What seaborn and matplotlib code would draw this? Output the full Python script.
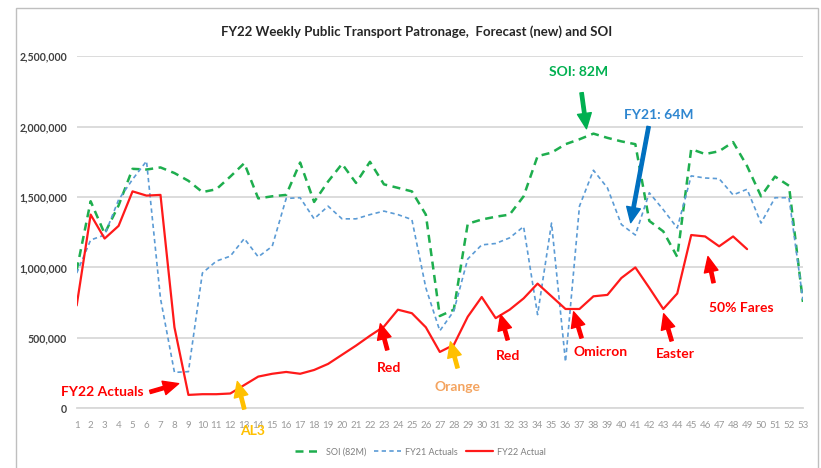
import numpy as np
import pandas as pd
import matplotlib
matplotlib.use("Agg")
import matplotlib.pyplot as plt
from matplotlib.patches import Rectangle
from matplotlib.lines import Line2D
import matplotlib.ticker as mticker
import seaborn as sns

# weekly patronage, thousands of trips
weeks = list(range(1, 54))
soi = [980, 1470, 1240, 1440, 1700, 1695, 1710, 1670, 1615, 1535,
       1555, 1645, 1740, 1490, 1505, 1515, 1745, 1465, 1610, 1735,
       1600, 1750, 1590, 1565, 1540, 1375, 655, 700, 1310, 1340,
       1360, 1375, 1505, 1790, 1815, 1875, 1910, 1950, 1920, 1895,
       1875, 1330, 1256, 1075, 1840, 1805, 1825, 1890, 1720, 1505,
       1645, 1580, 755]
fy21 = [960, 1195, 1230, 1480, 1625, 1755, 780, 255, 260, 960,
        1045, 1080, 1205, 1075, 1150, 1490, 1495, 1345, 1435, 1345,
        1345, 1375, 1400, 1375, 1340, 855, 550, 690, 1060, 1160,
        1170, 1210, 1290, 665, 1315, 330, 1435, 1690, 1565, 1305,
        1230, 1530, 1410, 1280, 1650, 1635, 1630, 1515, 1555, 1315,
        1495, 1495, 770]
fy22 = [730, 1375, 1205, 1295, 1540, 1510, 1515, 575, 95, 100,
        100, 105, 165, 225, 245, 258, 245, 272, 315, 380,
        445, 515, 580, 700, 675, 575, 400, 450, 650, 790,
        640, 700, 780, 885, 795, 705, 705, 795, 805, 925,
        1000, 855, 705, 815, 1230, 1220, 1150, 1220, 1130]

series_names = ["SOI (82M)", "FY21 Actuals", "FY22 Actual"]
y_ticks = [0, 500000, 1000000, 1500000, 2000000, 2500000]
title = "FY22 Weekly Public Transport Patronage,  Forecast (new) and SOI"

# text, colour, text pos (week, value), arrow tail, arrow tip
notes = [
    ("SOI: 82M", "#00B050", (36.9, 2390000), (37.15, 2240000), (37.5, 1985000)),
    ("FY21: 64M", "#2E86D0", (42.7, 2080000), (41.95, 2000000), (40.67, 1318000)),
    ("FY22 Actuals", "#FF0000", (2.8, 116000), (6.25, 116000), (8.3, 175000)),
    ("AL3", "#FFC000", (13.6, -160000), (13.0, -5000), (12.5, 190000)),
    ("Red", "#FF0000", (23.4, 287000), (23.24, 415000), (22.74, 600000)),
    ("Orange", "#F4A460", (28.3, 151000), (28.27, 287000), (27.76, 472000)),
    ("Red", "#FF0000", (31.9, 372000), (31.86, 486000), (31.35, 664000)),
    ("Omicron", "#FF0000", (38.5, 400000), (37.15, 500000), (36.58, 685000)),
    ("Easter", "#FF0000", (43.9, 386000), (43.6, 479000), (43.03, 671000)),
    ("50% Fares", "#FF0000", (48.6, 714000), (46.6, 892000), (46.2, 1077000)),
]
arrow_cols = {"#F4A460": "#FFC000", "#2E86D0": "#0070C0"}

df = pd.concat([
    pd.DataFrame({"week": weeks, "patronage": np.array(soi) * 1000, "series": series_names[0]}),
    pd.DataFrame({"week": weeks, "patronage": np.array(fy21) * 1000, "series": series_names[1]}),
    pd.DataFrame({"week": weeks[:len(fy22)], "patronage": np.array(fy22) * 1000, "series": series_names[2]}),
])

sns.set_style("white")
plt.rcParams['font.family'] = ['Lato', 'DejaVu Sans']

fig = plt.figure(figsize=(8.21, 4.68), dpi=100)
ax = fig.add_axes([0.0934, 0.1276, 0.8846, 0.7524])

styles = {
    "SOI (82M)": dict(color="#1EAE4E", lw=1.8, dashes=(3.2, 2.2)),
    "FY21 Actuals": dict(color="#5B9BD5", lw=1.2, dashes=(2.6, 2.0)),
    "FY22 Actual": dict(color="#FF1A1A", lw=1.6, dashes=""),
}
for name in series_names:
    st = styles[name]
    sub = df[df["series"] == name]
    sns.lineplot(data=sub, x="week", y="patronage", ax=ax, color=st["color"],
                 linewidth=st["lw"], legend=False)
    if st["dashes"]:
        ax.lines[-1].set_dashes(st["dashes"])

ax.set_xlim(1, 53)
ax.set_ylim(0, 2500000)
ax.set_yticks(y_ticks)
ax.yaxis.set_major_formatter(mticker.FuncFormatter(lambda v, p: f"{v:,.0f}"))
ax.set_xticks(weeks)
ax.set_xlabel("")
ax.set_ylabel("")
ax.grid(axis="y", color="#D9D9D9", lw=1.3)
ax.set_axisbelow(True)
for s in ["left", "right", "top"]:
    ax.spines[s].set_visible(False)
ax.spines["bottom"].set_color("#D9D9D9")
ax.spines["bottom"].set_linewidth(1.3)
ax.tick_params(axis="x", colors="#D9D9D9", length=4, width=1, direction="out", labelsize=7, labelcolor="#9A9A9A", pad=5)
ax.tick_params(axis="y", length=0, labelsize=7.6, labelcolor="#404040", pad=7)
for t in ax.get_yticklabels():
    t.set_fontweight("bold")

fig.text(0.508, 0.932, title, ha="center", va="center", fontsize=9.5, fontweight="bold", color="#262626")

for txt, col, tpos, tail, tip in notes:
    ac = arrow_cols.get(col, col)
    ax.annotate("", xy=tip, xytext=tail, annotation_clip=False,
                arrowprops=dict(facecolor=ac, edgecolor=ac, width=2.4, headwidth=10, headlength=11, shrink=0))
    ax.text(tpos[0], tpos[1], txt, color=col, fontsize=10, fontweight="bold", ha="center", va="center",
            clip_on=False, zorder=5)

handles = [Line2D([], [], color=styles[n]["color"], lw=styles[n]["lw"]) for n in series_names]
for h, n in zip(handles, series_names):
    if styles[n]["dashes"]:
        h.set_dashes(styles[n]["dashes"])
fig.legend(handles, series_names, loc="center", bbox_to_anchor=(0.512, 0.034), ncol=3, frameon=False,
           fontsize=6.5, labelcolor="#7F7F7F", handlelength=3.0, handletextpad=0.4, columnspacing=0.9)

fig.patches.append(Rectangle((0.0195, -0.01), 0.977, 0.993, transform=fig.transFigure, fill=False,
                             edgecolor="#BFBFBF", lw=1))

fig.savefig("out.png", dpi=100)
